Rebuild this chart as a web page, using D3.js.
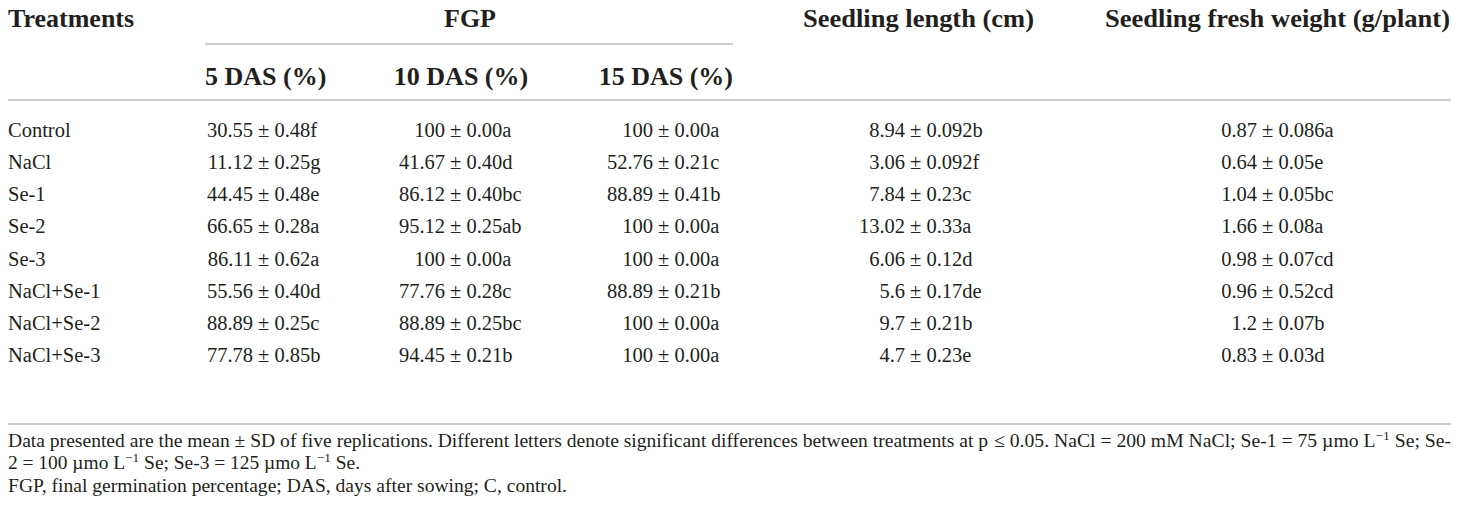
<!DOCTYPE html>
<html>
<head>
<meta charset="utf-8">
<script src="https://cdn.jsdelivr.net/npm/d3@7"></script>
<style>
  html, body { margin: 0; padding: 0; background: #ffffff; }
  svg { display: block; }
  text { font-family: "Liberation Serif", "Times New Roman", serif; fill: #231f20; }
</style>
</head>
<body>
<div id="chart"></div>
<script>
// ---------------- data ----------------
const treatments = ["Control", "NaCl", "Se-1", "Se-2", "Se-3", "NaCl+Se-1", "NaCl+Se-2", "NaCl+Se-3"];

const fgp5Mean  = ["30.55", "11.12", "44.45", "66.65", "86.11", "55.56", "88.89", "77.78"];
const fgp5Sd    = ["0.48f", "0.25g", "0.48e", "0.28a", "0.62a", "0.40d", "0.25c", "0.85b"];
const fgp10Mean = ["100", "41.67", "86.12", "95.12", "100", "77.76", "88.89", "94.45"];
const fgp10Sd   = ["0.00a", "0.40d", "0.40bc", "0.25ab", "0.00a", "0.28c", "0.25bc", "0.21b"];
const fgp15Mean = ["100", "52.76", "88.89", "100", "100", "88.89", "100", "100"];
const fgp15Sd   = ["0.00a", "0.21c", "0.41b", "0.00a", "0.00a", "0.21b", "0.00a", "0.00a"];
const lengthMean = ["8.94", "3.06", "7.84", "13.02", "6.06", "5.6", "9.7", "4.7"];
const lengthSd   = ["0.092b", "0.092f", "0.23c", "0.33a", "0.12d", "0.17de", "0.21b", "0.23e"];
const weightMean = ["0.87", "0.64", "1.04", "1.66", "0.98", "0.96", "1.2", "0.83"];
const weightSd   = ["0.086a", "0.05e", "0.05bc", "0.08a", "0.07cd", "0.52cd", "0.07b", "0.03d"];

const columnKeys = ["fgp5", "fgp10", "fgp15", "length", "weight"];
const groupHeaders = ["Treatments", "FGP", "Seedling length (cm)", "Seedling fresh weight (g/plant)"];
const subHeaders = ["5 DAS (%)", "10 DAS (%)", "15 DAS (%)"];

const footLine1a = "Data presented are the mean ± SD of five replications. Different letters denote significant differences between treatments at p";
const footLine3 = "FGP, final germination percentage; DAS, days after sowing; C, control.";

// ---------------- layout ----------------
const W = 1460, H = 515;
const svg = d3.select("#chart").append("svg").attr("width", W).attr("height", H);

const rule = "#cccccc";
const bodySize = 20.5, headSize = 26, footSize = 19;

const y = d3.scalePoint().domain(treatments).range([130, 355]);
const baseOff = 7;

// anchor = right edge of mean text (values aligned on the ± sign)
const xAnchor = d3.scaleOrdinal().domain(columnKeys).range([253, 445, 653, 905, 1257]);

const columns = [
  { key: "fgp5",  mean: fgp5Mean,  sd: fgp5Sd },
  { key: "fgp10", mean: fgp10Mean, sd: fgp10Sd },
  { key: "fgp15", mean: fgp15Mean, sd: fgp15Sd },
  { key: "length", mean: lengthMean, sd: lengthSd },
  { key: "weight", mean: weightMean, sd: weightSd }
];

// ---- rules ----
const rules = [
  { x1: 205, x2: 733, y: 44 },
  { x1: 8, x2: 1451, y: 100 },
  { x1: 8, x2: 1451, y: 424 }
];
svg.selectAll("line.rule").data(rules).join("line")
  .attr("class", "rule")
  .attr("x1", d => d.x1).attr("x2", d => d.x2)
  .attr("y1", d => d.y).attr("y2", d => d.y)
  .attr("stroke", rule).attr("stroke-width", 2);

// ---- header row ----
const headG = svg.append("g").attr("font-weight", "bold").attr("font-size", headSize);
const groupPos = [
  { x: 8, anchor: "start", len: null },
  { x: 470, anchor: "middle", len: null },
  { x: 803, anchor: "start", len: 231 },
  { x: 1105, anchor: "start", len: 345 }
];
headG.selectAll("text.group").data(groupHeaders).join("text")
  .attr("class", "group")
  .attr("x", (d, i) => groupPos[i].x)
  .attr("y", 27)
  .attr("text-anchor", (d, i) => groupPos[i].anchor)
  .each(function (d, i) {
    if (groupPos[i].len) d3.select(this).attr("textLength", groupPos[i].len).attr("lengthAdjust", "spacingAndGlyphs");
  })
  .text(d => d);

const subPos = [
  { x: 205, anchor: "start" },
  { x: 461, anchor: "middle" },
  { x: 733, anchor: "end" }
];
headG.selectAll("text.sub").data(subHeaders).join("text")
  .attr("class", "sub")
  .attr("x", (d, i) => subPos[i].x)
  .attr("y", 85)
  .attr("text-anchor", (d, i) => subPos[i].anchor)
  .text(d => d);

// ---- body ----
const bodyG = svg.append("g").attr("font-size", bodySize);
bodyG.selectAll("text.treat").data(treatments).join("text")
  .attr("class", "treat")
  .attr("x", 8)
  .attr("y", d => y(d) + baseOff)
  .text(d => d);

columns.forEach(col => {
  const rows = treatments.map((t, i) => ({ t, mean: col.mean[i], sd: col.sd[i] }));
  const g = bodyG.append("g").attr("class", "col-" + col.key);
  g.selectAll("text.mean").data(rows).join("text")
    .attr("class", "mean")
    .attr("x", xAnchor(col.key))
    .attr("y", d => y(d.t) + baseOff)
    .attr("text-anchor", "end")
    .text(d => d.mean);
  g.selectAll("text.sd").data(rows).join("text")
    .attr("class", "sd")
    .attr("x", xAnchor(col.key) + 5)
    .attr("y", d => y(d.t) + baseOff)
    .attr("text-anchor", "start")
    .text(d => "± " + d.sd);
});

// ---- footnote ----
const footG = svg.append("g").attr("font-size", footSize);
footG.append("text")
  .attr("x", 8).attr("y", 447)
  .attr("textLength", 980).attr("lengthAdjust", "spacingAndGlyphs")
  .text(footLine1a);

const f1b = footG.append("text").attr("x", 994).attr("y", 447)
  .attr("textLength", 457).attr("lengthAdjust", "spacingAndGlyphs");
f1b.append("tspan").text("≤ 0.05. NaCl = 200 mM NaCl; Se-1 = 75 µmo L");
f1b.append("tspan").attr("dy", -7).attr("font-size", 13).text("−1");
f1b.append("tspan").attr("dy", 7).text(" Se; Se-");

const f2 = footG.append("text").attr("x", 8).attr("y", 469)
  .attr("textLength", 352).attr("lengthAdjust", "spacingAndGlyphs");
f2.append("tspan").text("2 = 100 µmo L");
f2.append("tspan").attr("dy", -7).attr("font-size", 13).text("−1");
f2.append("tspan").attr("dy", 7).text(" Se; Se-3 = 125 µmo L");
f2.append("tspan").attr("dy", -7).attr("font-size", 13).text("−1");
f2.append("tspan").attr("dy", 7).text(" Se.");

footG.append("text")
  .attr("x", 8).attr("y", 492)
  .attr("textLength", 559).attr("lengthAdjust", "spacingAndGlyphs")
  .text(footLine3);
</script>
</body>
</html>
